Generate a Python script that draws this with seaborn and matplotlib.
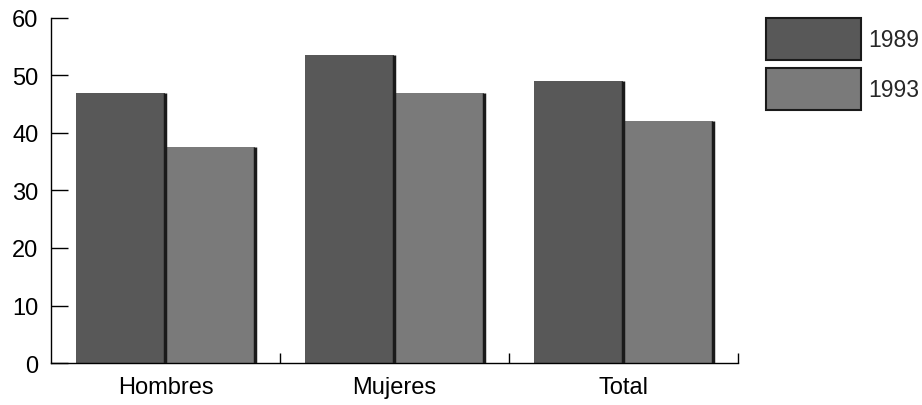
import matplotlib
matplotlib.use("Agg")
import matplotlib.pyplot as plt
import seaborn as sns
import pandas as pd

categories = ["Hombres", "Mujeres", "Total"]
years = ["1989", "1993"]
values_1989 = [47, 53.5, 49]
values_1993 = [37.5, 47, 42]
y_ticks = [0, 10, 20, 30, 40, 50, 60]

df = pd.DataFrame({
    "categoria": categories * 2,
    "año": [years[0]] * 3 + [years[1]] * 3,
    "valor": values_1989 + values_1993,
})

sns.set_theme(style="white")
plt.rcParams["font.family"] = ["Liberation Sans", "DejaVu Sans"]

fig = plt.figure(figsize=(9.22, 4.06), dpi=100)
ax = fig.add_axes([0.0553, 0.1034, 0.745, 0.85])

palette = {"1989": "#585858", "1993": "#7a7a7a"}
sns.barplot(data=df, x="categoria", y="valor", hue="año", order=categories,
            hue_order=years, palette=palette, width=0.78, saturation=1,
            linewidth=0, ax=ax)

# dark right edge (shadow) on each bar
for p in ax.patches:
    if p.get_height() > 0:
        xr = p.get_x() + p.get_width()
        ax.plot([xr, xr], [0, p.get_height()], color="#1a1a1a", lw=2.5,
                solid_capstyle="butt", zorder=3)

ax.set_xlim(-0.5, 2.5)
ax.set_ylim(0, 60)
ax.set_yticks(y_ticks)
ax.set_xlabel("")
ax.set_ylabel("")
sns.despine(ax=ax, top=True, right=True)
for s in ["left", "bottom"]:
    ax.spines[s].set_color("black")
    ax.spines[s].set_linewidth(1.0)

ax.tick_params(axis="y", direction="in", length=12, width=1, pad=9,
               labelsize=17, colors="black", left=True)
ax.tick_params(axis="x", which="major", length=0, pad=9, labelsize=17,
               colors="black")
ax.set_xticks([0.5, 1.5, 2.5], minor=True)
ax.tick_params(axis="x", which="minor", direction="in", length=7, width=1,
               bottom=True, color="black")

leg = ax.legend(loc="upper left", bbox_to_anchor=(1.028, 1.025), frameon=False,
                fontsize=16.5, handlelength=4.15, handleheight=2.42,
                labelspacing=0.35, handletextpad=0.3, borderaxespad=0)
for h in leg.legend_handles:
    h.set_edgecolor("#1a1a1a")
    h.set_linewidth(1.5)

fig.savefig("out.png", dpi=100)
